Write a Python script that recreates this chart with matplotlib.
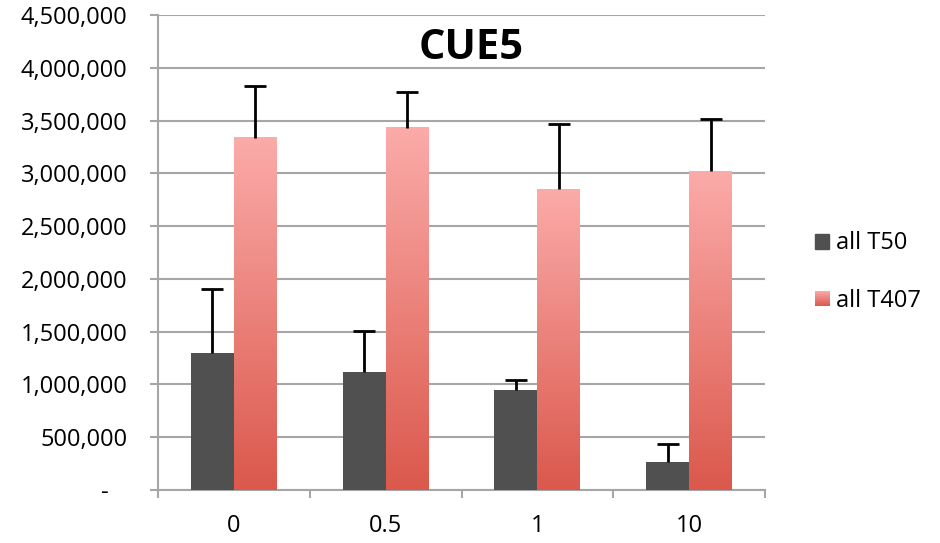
import numpy as np
import matplotlib.pyplot as plt
from matplotlib.patches import Patch
from matplotlib.ticker import FuncFormatter, FixedLocator
from matplotlib.legend_handler import HandlerBase
from matplotlib.image import BboxImage
from matplotlib.transforms import Bbox, TransformedBbox

plt.rcParams['font.family'] = ['Open Sans', 'DejaVu Sans']

categories = ["0", "0.5", "1", "10"]
t50 = [1300000, 1115000, 945000, 265000]
t50_err = [600000, 395000, 100000, 170000]
t407 = [3335000, 3430000, 2850000, 3020000]
t407_err = [490000, 340000, 615000, 495000]
labels = ["all T50", "all T407"]

dark = "#505050"
top_pink = np.array([251, 171, 169]) / 255
bot_red = np.array([219, 88, 76]) / 255
grid_gray = "#a6a6a6"

grad = np.linspace(0, 1, 256)[:, None, None]
img = top_pink * (1 - grad) + bot_red * grad


class GradHandler(HandlerBase):
    # legend key filled with the same vertical gradient as the bars
    def create_artists(self, legend, orig_handle, xdescent, ydescent,
                       width, height, fontsize, trans):
        bb = Bbox.from_bounds(-xdescent, -ydescent, width, height)
        im = BboxImage(TransformedBbox(bb, trans), interpolation="bilinear")
        im.set_data(img)
        return [im]


fig = plt.figure(figsize=(9.4, 5.43), dpi=100)
ax = fig.add_axes([158 / 940, 1 - 490 / 543, (765 - 158) / 940, (490 - 15) / 543])

x = np.arange(len(categories))
w = 0.283


def up_errors(xs, ys, err):
    eb = ax.errorbar(xs, ys, yerr=[np.zeros(len(ys)), err], fmt="none",
                     ecolor="black", elinewidth=2, capsize=8, capthick=2, zorder=4)
    eb[1][0].set_visible(False)  # hide lower caps


ax.bar(x - w / 2, t50, w, color=dark, zorder=3)
up_errors(x - w / 2, t50, t50_err)

bars = ax.bar(x + w / 2, t407, w, color="none", zorder=3)
for b in bars:
    x0, y0 = b.get_x(), b.get_y()
    ax.imshow(img, extent=[x0, x0 + b.get_width(), y0, y0 + b.get_height()],
              aspect="auto", origin="upper", zorder=3, interpolation="bilinear")
up_errors(x + w / 2, t407, t407_err)

ax.set_xlim(-0.5, len(categories) - 0.5)
ax.set_ylim(0, 4500000)
ax.set_yticks(np.arange(0, 4500001, 500000))
ax.yaxis.set_major_formatter(FuncFormatter(lambda v, p: "-   " if v == 0 else f"{int(v):,}"))
ax.grid(axis="y", color=grid_gray, linewidth=1.5, zorder=0)
ax.set_axisbelow(True)

ax.set_xticks(x)
ax.set_xticklabels(categories)
ax.xaxis.set_minor_locator(FixedLocator(np.arange(-0.5, len(categories), 1)))
ax.tick_params(axis="x", which="major", length=0, pad=17, labelsize=17)
ax.tick_params(axis="x", which="minor", length=6, width=1.5, color=grid_gray)
ax.tick_params(axis="y", length=6, width=1.5, color=grid_gray, pad=16, labelsize=17)

for s in ["top", "right"]:
    ax.spines[s].set_visible(False)
for s in ["left", "bottom"]:
    ax.spines[s].set_color(grid_gray)
    ax.spines[s].set_linewidth(1.5)

ax.text(0.516, 0.93, "CUE5", transform=ax.transAxes, ha="center", va="center",
        fontsize=30, fontweight="bold")

handles = [Patch(color=dark), Patch(color="#f0857c")]
fig.legend(handles, labels, loc="center left", bbox_to_anchor=(794 / 940, 1 - 272 / 543),
           frameon=False, fontsize=17, handlelength=0.6, handleheight=0.6,
           handletextpad=0.3, labelspacing=1.4,
           handler_map={handles[1]: GradHandler()})

fig.savefig("out.png", dpi=100)
